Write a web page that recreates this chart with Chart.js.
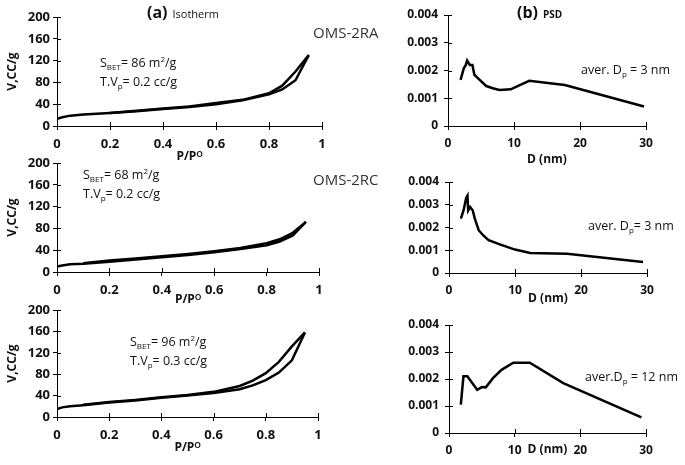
<!DOCTYPE html>
<html>
<head>
<meta charset="utf-8">
<script src="https://cdn.jsdelivr.net/npm/chart.js@4.4.1/dist/chart.umd.min.js"></script>
<style>
  body { margin: 0; background: #fff; }
  #wrap { position: relative; width: 685px; height: 465px; overflow: hidden; font-family: 'Open Sans', sans-serif; color: #111; }
  #wrap canvas { position: absolute; left: 0; top: 0; }
  .note { position: absolute; font-size: 12.5px; line-height: 19px; white-space: nowrap; }
  .note sub { font-size: 8px; vertical-align: -3px; line-height: 0; }
  .note sup { font-size: 8px; vertical-align: 5px; line-height: 0; }
  .head { position: absolute; white-space: nowrap; font-weight: bold; font-size: 16px; line-height: 20px; }
  .head span { font-size: 11px; font-weight: normal; margin-left: 5px; }
  .name { position: absolute; font-size: 15px; color: #333; white-space: nowrap; line-height: 18px; }
</style>
</head>
<body>
<div id="wrap">
  <canvas id="c1" width="685" height="465"></canvas>
  <canvas id="c2" width="685" height="465"></canvas>
  <canvas id="c3" width="685" height="465"></canvas>
  <canvas id="c4" width="685" height="465"></canvas>
  <canvas id="c5" width="685" height="465"></canvas>
  <canvas id="c6" width="685" height="465"></canvas>

  <div class="head" style="left:147px;top:2px">(a)<span>Isotherm</span></div>
  <div class="head" style="left:517px;top:2px">(b)<span style="font-weight:bold;font-size:10px">PSD</span></div>
  <div class="name" style="left:313px;top:23px">OMS-2RA</div>
  <div class="name" style="left:313px;top:170px">OMS-2RC</div>

  <div class="note" style="left:100px;top:53px">S<sub>BET</sub>= 86 m<sup>2</sup>/g<br>T.V<sub>p</sub>= 0.2 cc/g</div>
  <div class="note" style="left:83px;top:165px">S<sub>BET</sub>= 68 m<sup>2</sup>/g<br>T.V<sub>p</sub>= 0.2 cc/g</div>
  <div class="note" style="left:130px;top:332px">S<sub>BET</sub>= 96 m<sup>2</sup>/g<br>T.V<sub>p</sub>= 0.3 cc/g</div>

  <div class="note" style="left:581px;top:60px">aver. D<sub>p</sub> = 3 nm</div>
  <div class="note" style="left:588px;top:216px">aver. D<sub>p</sub>= 3 nm</div>
  <div class="note" style="left:585px;top:367px">aver.D<sub>p</sub> = 12 nm</div>
</div>

<script>
// Isotherme (P/P0 gegen V in cc/g), Adsorption hin, Desorption zurück
const raAdsP = [0, 0.02, 0.05, 0.1, 0.2, 0.3, 0.4, 0.5, 0.6, 0.7, 0.8, 0.85, 0.9, 0.95];
const raAdsV = [13, 16, 19, 21, 24, 27, 31, 35, 40, 47, 58, 67, 84, 130];
const raDesP = [0.95, 0.9, 0.85, 0.8, 0.7, 0.6, 0.5, 0.4, 0.3, 0.2];
const raDesV = [130, 100, 74, 60, 48, 42, 36, 32, 28, 24];

const rcAdsP = [0, 0.02, 0.05, 0.1, 0.2, 0.3, 0.4, 0.5, 0.6, 0.7, 0.8, 0.85, 0.9, 0.95];
const rcAdsV = [10, 12, 14, 15, 19, 23, 27, 31, 36, 42, 49, 56, 67, 92];
const rcDesP = [0.95, 0.9, 0.85, 0.8, 0.7, 0.6, 0.5, 0.4, 0.3, 0.2, 0.1];
const rcDesV = [92, 72, 60, 53, 44, 38, 33, 29, 25, 21, 16];

const rxAdsP = [0, 0.02, 0.05, 0.1, 0.2, 0.3, 0.4, 0.5, 0.6, 0.7, 0.75, 0.8, 0.85, 0.9, 0.95];
const rxAdsV = [15, 18, 20, 22, 27, 31, 36, 40, 45, 52, 59, 69, 83, 106, 158];
const rxDesP = [0.95, 0.9, 0.85, 0.8, 0.75, 0.7, 0.6, 0.5, 0.4, 0.3, 0.2, 0.1];
const rxDesV = [158, 132, 103, 82, 68, 58, 47, 41, 37, 32, 28, 23];

// Porengrößenverteilung (D in nm)
const raD = [1.9, 2.4, 2.7, 2.9, 3.3, 3.7, 4.0, 4.8, 5.8, 6.8, 7.8, 9.5, 12.3, 17.7, 29.7];
const raPSD = [0.00166, 0.00208, 0.0022, 0.00236, 0.0022, 0.0022, 0.00184, 0.00166, 0.00144, 0.00136, 0.0013, 0.00132, 0.00163, 0.00148, 0.0007];

const rcD = [1.8, 2.2, 2.6, 2.8, 2.9, 3.2, 3.6, 3.9, 4.5, 5.2, 6, 7.7, 10, 12.3, 17.9, 29.4];
const rcPSD = [0.00239, 0.00275, 0.0033, 0.0034, 0.00275, 0.0029, 0.00275, 0.0024, 0.00188, 0.00165, 0.00144, 0.00126, 0.00103, 0.00088, 0.00085, 0.00048];

const rxD = [1.8, 2.2, 2.8, 3.4, 4.3, 5, 5.6, 6.7, 8, 9.8, 12.3, 17.4, 29.3];
const rxPSD = [0.00105, 0.0021, 0.0021, 0.0019, 0.0016, 0.0017, 0.00169, 0.00203, 0.00234, 0.0026, 0.0026, 0.00185, 0.00058];

// Achsen
const isoTicksX = { min: 0, max: 1, step: 0.2 };
const isoTicksY = { min: 0, max: 200, step: 40 };
const psdTicksX = { min: 0, max: 30, step: 10 };
const psdTicksY = { min: 0, max: 0.004, step: 0.001 };

const W = 685, H = 465;
const titleFont = { family: "'Open Sans', sans-serif", size: 12, weight: 'bold' };

// Ticks, die durch die Achse gehen (wie im Original)
const crossTicks = {
  id: 'crossTicks',
  afterDraw(chart) {
    const ctx = chart.ctx;
    const { x, y } = chart.scales;
    ctx.save();
    ctx.strokeStyle = '#000';
    ctx.lineWidth = 1;
    ctx.beginPath();
    x.ticks.forEach((t, i) => {
      const px = Math.round(x.getPixelForTick(i)) + 0.5;
      ctx.moveTo(px, x.top);
      ctx.lineTo(px, x.top - 4);
    });
    y.ticks.forEach((t, i) => {
      const py = Math.round(y.getPixelForTick(i)) + 0.5;
      ctx.moveTo(y.right, py);
      ctx.lineTo(y.right + 4, py);
    });
    ctx.stroke();
    ctx.restore();
  }
};

function pts(xs, ys) {
  return xs.map((v, i) => ({ x: v, y: ys[i] }));
}

function fmt(v) {
  return String(Math.round(v * 1e6) / 1e6);
}

// box = [links, rechts, oben, unten] der Plotfläche auf der Seite
function makePanel(id, box, series, tx, ty, xTitle, yTitle, xH, yLabelPad, tickSize) {
  const [l, r, t, b] = box;
  const tickFont = { family: "'Open Sans', sans-serif", size: tickSize, weight: 'bold' };
  new Chart(document.getElementById(id), {
    type: 'scatter',
    data: {
      datasets: series.map(s => ({
        data: s,
        showLine: true,
        borderColor: '#000',
        borderWidth: 2.5,
        pointRadius: 0,
        tension: 0
      }))
    },
    options: {
      responsive: false,
      animation: false,
      devicePixelRatio: 1,
      layout: { padding: { left: yTitle ? 0 : 340, right: W - r, top: t, bottom: H - b - xH } },
      plugins: { legend: { display: false }, tooltip: { enabled: false } },
      scales: {
        x: {
          type: 'linear',
          min: tx.min, max: tx.max,
          ticks: { stepSize: tx.step, font: tickFont, color: '#111', padding: 6, callback: fmt },
          grid: { drawOnChartArea: false, tickLength: 4, color: '#000' },
          border: { color: '#000', width: 1 },
          title: { display: true, text: xTitle, font: titleFont, color: '#111', padding: { top: 0, bottom: 0 } },
          afterFit: s => { s.height = xH; }
        },
        y: {
          type: 'linear',
          min: ty.min, max: ty.max,
          ticks: { stepSize: ty.step, font: tickFont, color: '#111', padding: yLabelPad, callback: fmt },
          grid: { drawOnChartArea: false, tickLength: 4, color: '#000' },
          border: { color: '#000', width: 1 },
          title: { display: !!yTitle, text: yTitle || '', font: titleFont, color: '#111', padding: { top: 5, bottom: 0 } },
          afterFit: s => { s.width = yTitle ? l : l - 340; }
        }
      }
    },
    plugins: [crossTicks]
  });
}

makePanel('c1', [57, 322, 17, 126], [pts(raAdsP, raAdsV), pts(raDesP, raDesV)], isoTicksX, isoTicksY, 'P/Pᴼ', 'V,CC/g', 38, 3, 13);
makePanel('c2', [57, 319, 163, 272], [pts(rcAdsP, rcAdsV), pts(rcDesP, rcDesV)], isoTicksX, isoTicksY, 'P/Pᴼ', 'V,CC/g', 35, 3, 13);
makePanel('c3', [57, 318, 310, 417], [pts(rxAdsP, rxAdsV), pts(rxDesP, rxDesV)], isoTicksX, isoTicksY, 'P/Pᴼ', 'V,CC/g', 38, 3, 13);

makePanel('c4', [448, 646, 15, 126], [pts(raD, raPSD)], psdTicksX, psdTicksY, 'D (nm)', null, 41, 6, 12);
makePanel('c5', [449, 647, 182, 273], [pts(rcD, rcPSD)], psdTicksX, psdTicksY, 'D (nm)', null, 33, 6, 12);
makePanel('c6', [449, 646, 325, 433], [pts(rxD, rxPSD)], psdTicksX, psdTicksY, 'D (nm)', null, 24, 6, 12);
</script>
</body>
</html>
